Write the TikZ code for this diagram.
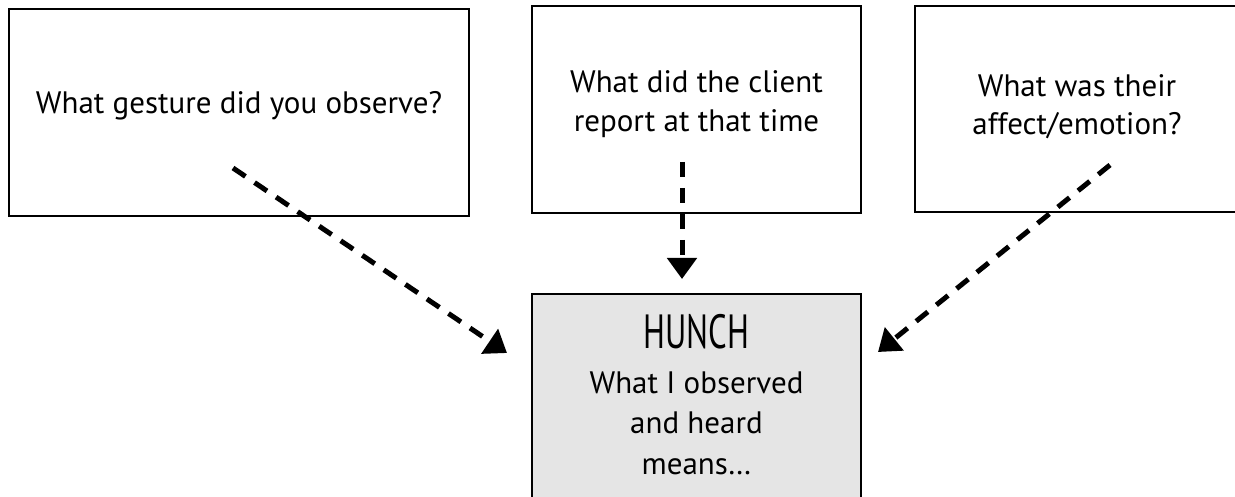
\documentclass[tikz,border=0pt]{standalone}
\usepackage{fontspec}
\setmainfont{PT Sans}
\newfontfamily\hunchfont[FakeStretch=0.68]{PT Sans}
\usetikzlibrary{arrows.meta}
\begin{document}
\begin{tikzpicture}[x=1pt,y=-1pt,
  qbox/.style={draw=black, line width=2.2pt, fill=white, inner sep=0pt, outer sep=0pt},
  hbox/.style={qbox, fill=black!10},
  qtext/.style={inner sep=0pt, align=center, font=\fontsize{31}{39}\selectfont},
  flow/.style={line width=5pt, dash pattern=on 15pt off 11pt, -{Triangle[length=21pt,width=29pt]}}]
\clip (0,0) rectangle (1235,497);
\fill[white] (0,0) rectangle (1235,497);
\node[qbox, minimum width=460pt, minimum height=207pt] (b1) at (239,112.5) {};
\node[qbox, minimum width=329pt, minimum height=207pt] (b2) at (696.5,109.5) {};
\node[qbox, minimum width=329pt, minimum height=206pt] (b3) at (1079.5,109) {};
\node[hbox, minimum width=329pt, minimum height=240pt] (h) at (696.5,414) {};
\node[qtext, anchor=base] (t1) at (239,114) {What gesture did you observe?};
\node[qtext, anchor=base] (t2) at (696.5,132) {What did the client\\report at that time};
\node[qtext, anchor=base, font=\fontsize{31}{38}\selectfont] (t3) at (1077,135) {What was their\\affect/emotion?};
\node[inner sep=0pt, anchor=base, font=\hunchfont\fontsize{48}{48}\selectfont] (ht) at (696.5,348) {HUNCH};
\node[qtext, anchor=base, font=\fontsize{31}{40.5}\selectfont] (hb) at (696.5,474) {What I observed\\and heard\\means…};
\coordinate (s1) at (233,168);
\coordinate (e1) at (507,353);
\coordinate (s2) at (682,162);
\coordinate (e2) at (682,279);
\coordinate (s3) at (1110,165);
\coordinate (e3) at (878,352);
\draw[flow] (s1) -- (e1);
\draw[flow] (s2) -- (e2);
\draw[flow] (s3) -- (e3);
\end{tikzpicture}
\end{document}
